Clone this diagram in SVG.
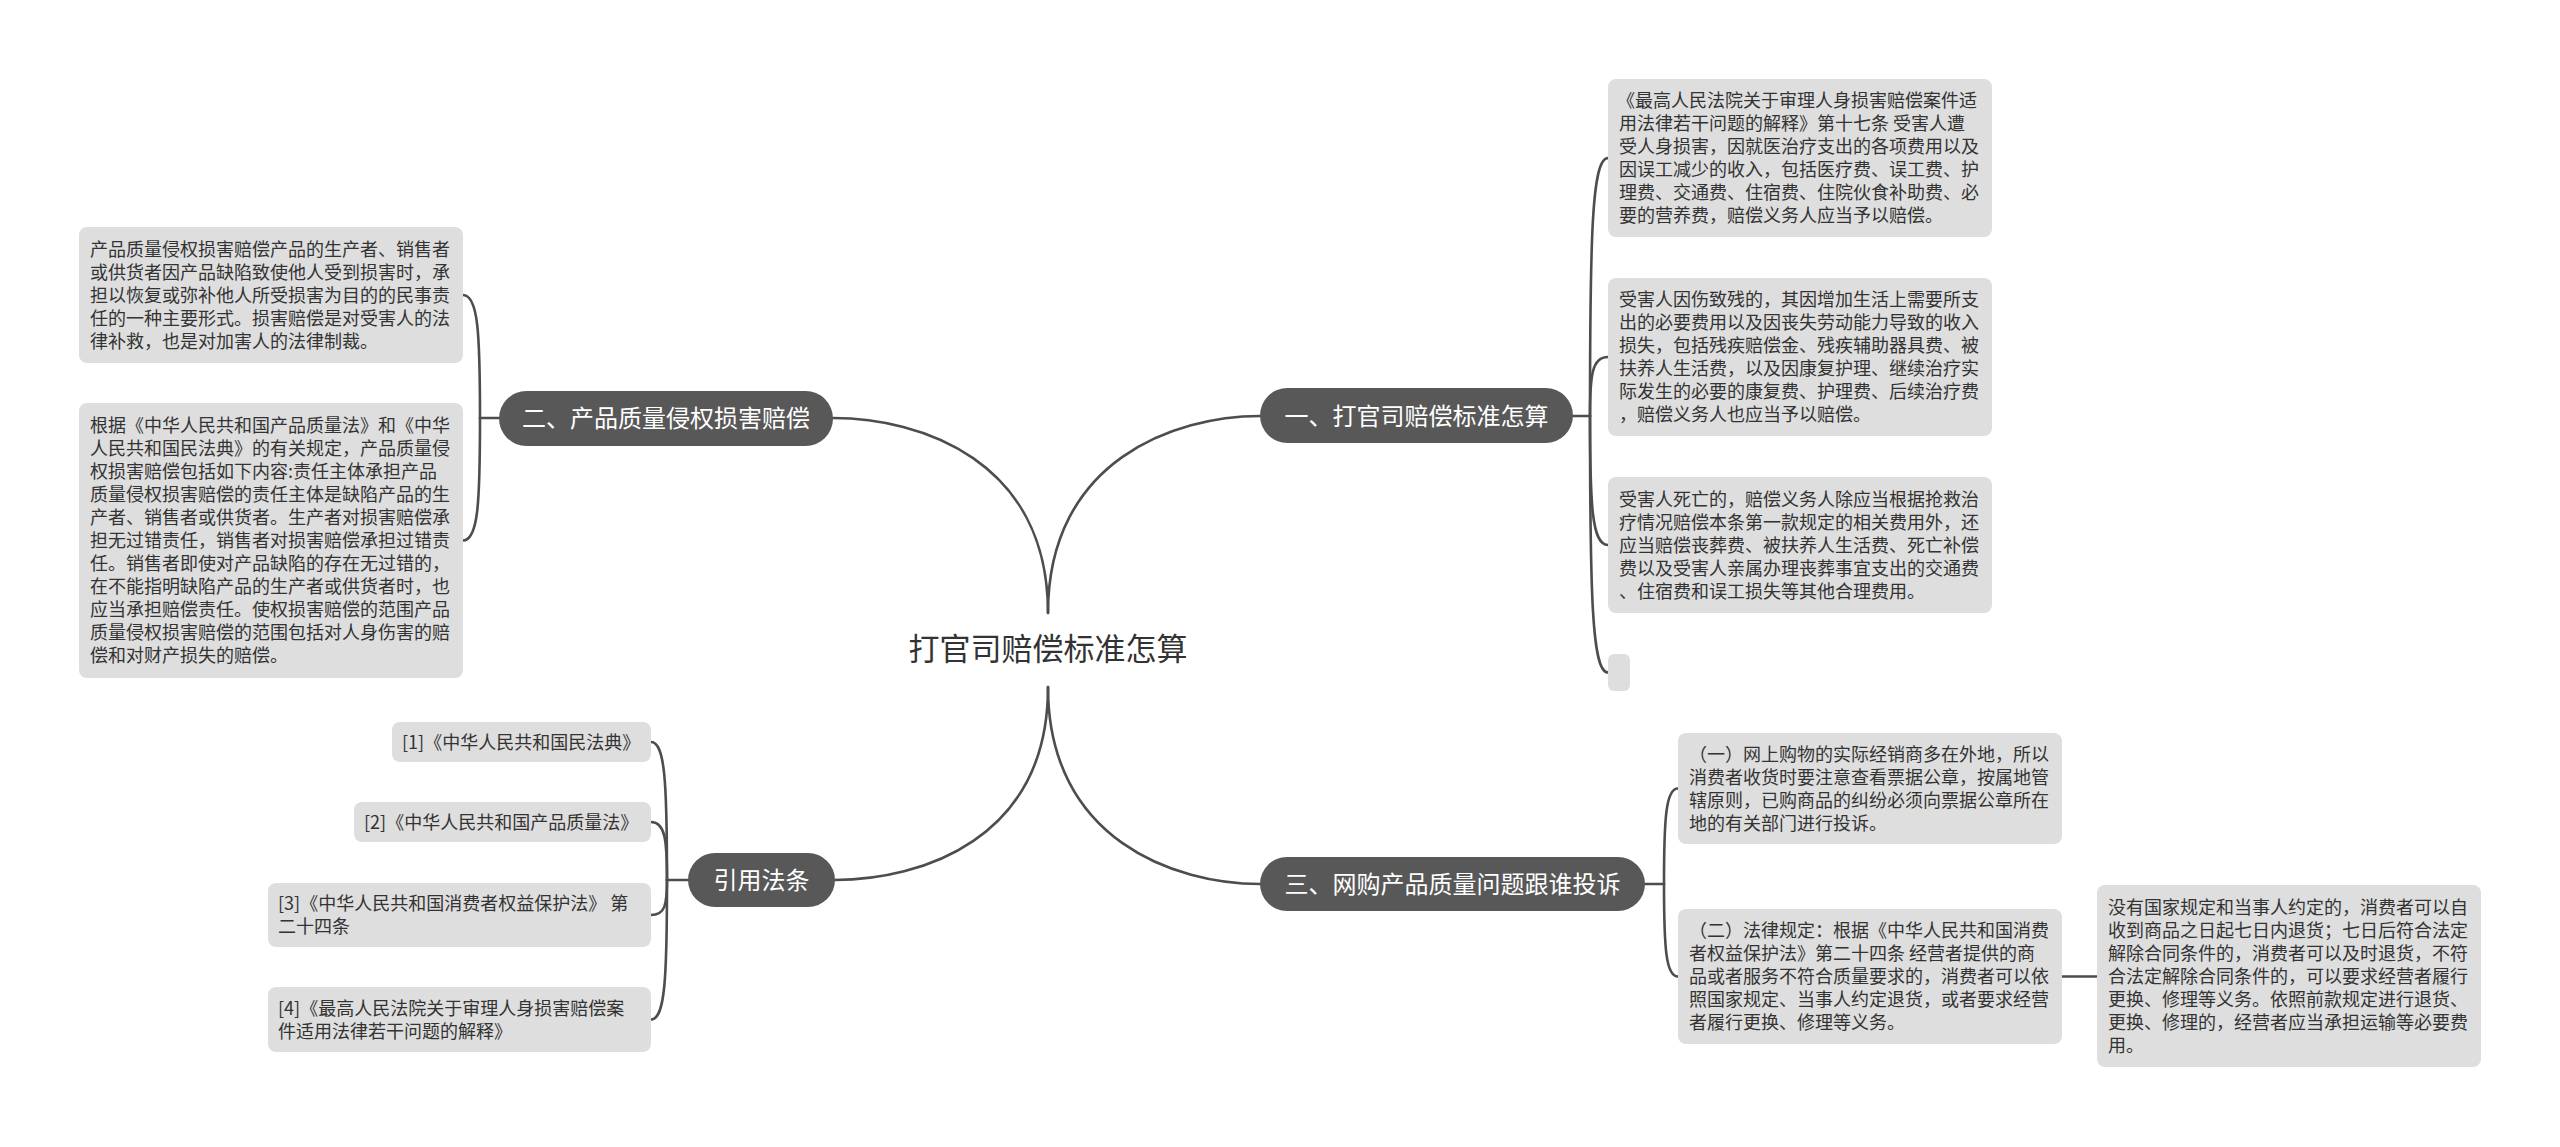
<svg xmlns="http://www.w3.org/2000/svg" width="2560" height="1147" viewBox="0 0 2560 1147">
<style>
text { font-family: "Noto Sans CJK SC", "Noto Sans", sans-serif; }
.branch rect { fill: #585858; }
.branch text { fill: #ffffff; font-size: 24px; text-anchor: middle; }
.leaf rect { fill: #dedede; }
.leaf text { fill: #333333; font-size: 18px; }
.root text { fill: #333333; font-size: 31px; text-anchor: middle; }
#connectors path { fill: none; stroke: #4d4d4d; stroke-width: 2.6; stroke-linecap: round; }
</style>
<rect width="2560" height="1147" fill="#ffffff"/>

<g id="connectors">
  <!-- root to branches -->
  <path d="M 833 418 C 920 418, 1048 460, 1048 613"/>
  <path d="M 1260 416 C 1175 416, 1048 460, 1048 613"/>
  <path d="M 835 880 C 920 880, 1048 840, 1048 687"/>
  <path d="M 1260 884 C 1175 884, 1048 840, 1048 687"/>
  <!-- branch 一 -->
  <path d="M 1573 416 H 1590"/>
  <path d="M 1590 416 C 1590 235, 1592 158, 1608 158"/>
  <path d="M 1590 416 C 1590 375, 1592 357, 1608 357"/>
  <path d="M 1590 416 C 1590 506, 1592 545, 1608 545"/>
  <path d="M 1590 416 C 1590 595, 1592 672.5, 1608 672.5"/>
  <!-- branch 二 -->
  <path d="M 499 418 H 480"/>
  <path d="M 480 418 C 480 332, 478 295, 463 295"/>
  <path d="M 480 418 C 480 504, 478 540.5, 463 540.5"/>
  <!-- 引用法条 -->
  <path d="M 688 880 H 667"/>
  <path d="M 667 880 C 667 783, 665 742, 651 742"/>
  <path d="M 667 880 C 667 839, 665 822, 651 822"/>
  <path d="M 667 880 C 667 905, 665 915, 651 915"/>
  <path d="M 667 880 C 667 978, 665 1019.5, 651 1019.5"/>
  <!-- branch 三 -->
  <path d="M 1645 884 H 1664"/>
  <path d="M 1664 884 C 1664 817, 1666 788.5, 1678 788.5"/>
  <path d="M 1664 884 C 1664 949, 1666 976.5, 1678 976.5"/>
  <path d="M 2062 976.5 H 2097"/>
</g>

<g id="root" class="root">
  <text x="1048" y="660">打官司赔偿标准怎算</text>
</g>

<g id="branch1" class="branch">
  <rect x="1260" y="388" width="313" height="55" rx="27.5"/>
  <text x="1416.5" y="424.5">一、打官司赔偿标准怎算</text>
</g>
<g id="branch2" class="branch">
  <rect x="499" y="391" width="334" height="55" rx="27.5"/>
  <text x="666" y="426.5">二、产品质量侵权损害赔偿</text>
</g>
<g id="branch3" class="branch">
  <rect x="1260" y="857" width="385" height="54" rx="27"/>
  <text x="1452.5" y="892.5">三、网购产品质量问题跟谁投诉</text>
</g>
<g id="branch4" class="branch">
  <rect x="688" y="853" width="147" height="54" rx="27"/>
  <text x="761.5" y="888.5">引用法条</text>
</g>

<g id="leaf1-1" class="leaf">
  <rect x="1608" y="79" width="384" height="158" rx="8"/>
  <text x="1617">
    <tspan x="1617" y="107">《最高人民法院关于审理人身损害赔偿案件适</tspan>
    <tspan x="1619" y="130">用法律若干问题的解释》第十七条 受害人遭</tspan>
    <tspan x="1619" y="153">受人身损害，因就医治疗支出的各项费用以及</tspan>
    <tspan x="1619" y="176">因误工减少的收入，包括医疗费、误工费、护</tspan>
    <tspan x="1619" y="199">理费、交通费、住宿费、住院伙食补助费、必</tspan>
    <tspan x="1619" y="222">要的营养费，赔偿义务人应当予以赔偿。</tspan>
  </text>
</g>
<g id="leaf1-2" class="leaf">
  <rect x="1608" y="278" width="384" height="158" rx="8"/>
  <text>
    <tspan x="1619" y="306">受害人因伤致残的，其因增加生活上需要所支</tspan>
    <tspan x="1619" y="329">出的必要费用以及因丧失劳动能力导致的收入</tspan>
    <tspan x="1619" y="352">损失，包括残疾赔偿金、残疾辅助器具费、被</tspan>
    <tspan x="1619" y="375">扶养人生活费，以及因康复护理、继续治疗实</tspan>
    <tspan x="1619" y="398">际发生的必要的康复费、护理费、后续治疗费</tspan>
    <tspan x="1619" y="421">，赔偿义务人也应当予以赔偿。</tspan>
  </text>
</g>
<g id="leaf1-3" class="leaf">
  <rect x="1608" y="477" width="384" height="136" rx="8"/>
  <text>
    <tspan x="1619" y="505.5">受害人死亡的，赔偿义务人除应当根据抢救治</tspan>
    <tspan x="1619" y="528.5">疗情况赔偿本条第一款规定的相关费用外，还</tspan>
    <tspan x="1619" y="551.5">应当赔偿丧葬费、被扶养人生活费、死亡补偿</tspan>
    <tspan x="1619" y="574.5">费以及受害人亲属办理丧葬事宜支出的交通费</tspan>
    <tspan x="1619" y="597.5">、住宿费和误工损失等其他合理费用。</tspan>
  </text>
</g>
<g id="leaf1-4" class="leaf">
  <rect x="1608" y="654" width="22" height="37" rx="6"/>
</g>

<g id="leaf2-1" class="leaf">
  <rect x="79" y="227" width="384" height="136" rx="8"/>
  <text>
    <tspan x="90" y="255.5">产品质量侵权损害赔偿产品的生产者、销售者</tspan>
    <tspan x="90" y="278.5">或供货者因产品缺陷致使他人受到损害时，承</tspan>
    <tspan x="90" y="301.5">担以恢复或弥补他人所受损害为目的的民事责</tspan>
    <tspan x="90" y="324.5">任的一种主要形式。损害赔偿是对受害人的法</tspan>
    <tspan x="90" y="347.5">律补救，也是对加害人的法律制裁。</tspan>
  </text>
</g>
<g id="leaf2-2" class="leaf">
  <rect x="79" y="403" width="384" height="275" rx="8"/>
  <text>
    <tspan x="90" y="432">根据《中华人民共和国产品质量法》和《中华</tspan>
    <tspan x="90" y="455">人民共和国民法典》的有关规定，产品质量侵</tspan>
    <tspan x="90" y="478">权损害赔偿包括如下内容:责任主体承担产品</tspan>
    <tspan x="90" y="501">质量侵权损害赔偿的责任主体是缺陷产品的生</tspan>
    <tspan x="90" y="524">产者、销售者或供货者。生产者对损害赔偿承</tspan>
    <tspan x="90" y="547">担无过错责任，销售者对损害赔偿承担过错责</tspan>
    <tspan x="90" y="570">任。销售者即使对产品缺陷的存在无过错的，</tspan>
    <tspan x="90" y="593">在不能指明缺陷产品的生产者或供货者时，也</tspan>
    <tspan x="90" y="616">应当承担赔偿责任。使权损害赔偿的范围产品</tspan>
    <tspan x="90" y="639">质量侵权损害赔偿的范围包括对人身伤害的赔</tspan>
    <tspan x="90" y="662">偿和对财产损失的赔偿。</tspan>
  </text>
</g>

<g id="ref1" class="leaf">
  <rect x="392" y="722" width="259" height="40" rx="8"/>
  <text x="402" y="748.5">[1]《中华人民共和国民法典》</text>
</g>
<g id="ref2" class="leaf">
  <rect x="354" y="802" width="297" height="40" rx="8"/>
  <text x="364" y="828.5">[2]《中华人民共和国产品质量法》</text>
</g>
<g id="ref3" class="leaf">
  <rect x="268" y="883" width="383" height="64" rx="8"/>
  <text>
    <tspan x="278" y="910">[3]《中华人民共和国消费者权益保护法》 第</tspan>
    <tspan x="278" y="933">二十四条</tspan>
  </text>
</g>
<g id="ref4" class="leaf">
  <rect x="268" y="987" width="383" height="65" rx="8"/>
  <text>
    <tspan x="278" y="1014.5">[4]《最高人民法院关于审理人身损害赔偿案</tspan>
    <tspan x="278" y="1037.5">件适用法律若干问题的解释》</tspan>
  </text>
</g>

<g id="leaf3-1" class="leaf">
  <rect x="1678" y="733" width="384" height="111" rx="8"/>
  <text>
    <tspan x="1689" y="760.5">（一）网上购物的实际经销商多在外地，所以</tspan>
    <tspan x="1689" y="783.5">消费者收货时要注意查看票据公章，按属地管</tspan>
    <tspan x="1689" y="806.5">辖原则，已购商品的纠纷必须向票据公章所在</tspan>
    <tspan x="1689" y="829.5">地的有关部门进行投诉。</tspan>
  </text>
</g>
<g id="leaf3-2" class="leaf">
  <rect x="1678" y="909" width="384" height="135" rx="8"/>
  <text>
    <tspan x="1689" y="937">（二）法律规定：根据《中华人民共和国消费</tspan>
    <tspan x="1689" y="960">者权益保护法》第二十四条 经营者提供的商</tspan>
    <tspan x="1689" y="983">品或者服务不符合质量要求的，消费者可以依</tspan>
    <tspan x="1689" y="1006">照国家规定、当事人约定退货，或者要求经营</tspan>
    <tspan x="1689" y="1029">者履行更换、修理等义务。</tspan>
  </text>
</g>
<g id="leaf3-2-1" class="leaf">
  <rect x="2097" y="885" width="384" height="182" rx="8"/>
  <text>
    <tspan x="2108" y="913.5">没有国家规定和当事人约定的，消费者可以自</tspan>
    <tspan x="2108" y="936.5">收到商品之日起七日内退货；七日后符合法定</tspan>
    <tspan x="2108" y="959.5">解除合同条件的，消费者可以及时退货，不符</tspan>
    <tspan x="2108" y="982.5">合法定解除合同条件的，可以要求经营者履行</tspan>
    <tspan x="2108" y="1005.5">更换、修理等义务。依照前款规定进行退货、</tspan>
    <tspan x="2108" y="1028.5">更换、修理的，经营者应当承担运输等必要费</tspan>
    <tspan x="2108" y="1051.5">用。</tspan>
  </text>
</g>
</svg>
